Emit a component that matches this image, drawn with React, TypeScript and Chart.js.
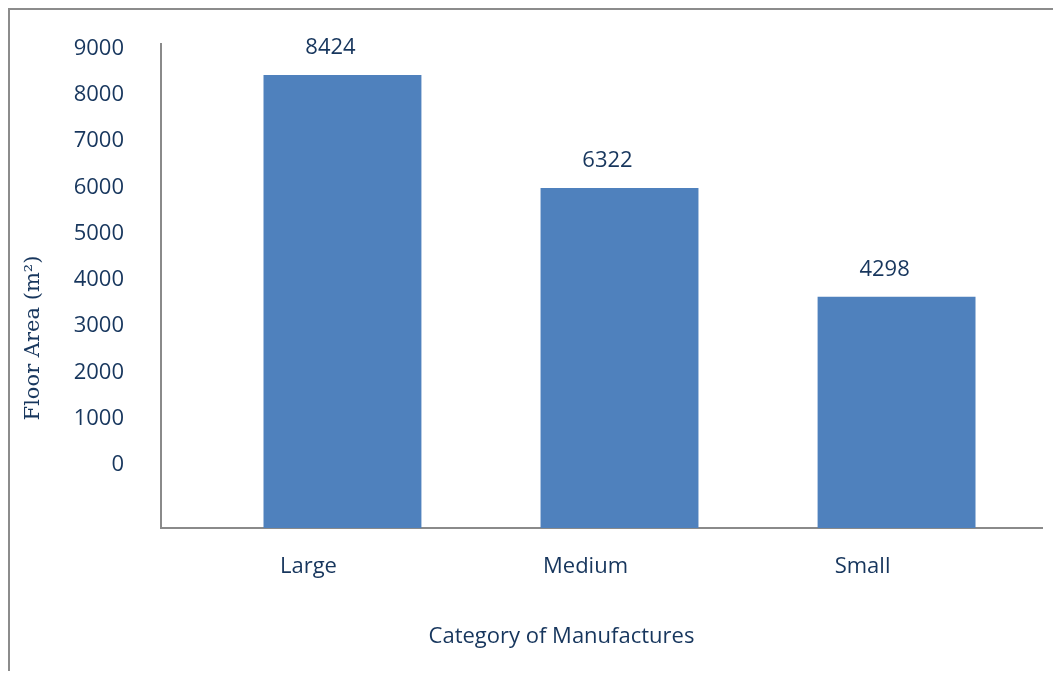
import React, { useEffect, useRef } from "react";
import { Chart, registerables } from "chart.js";

Chart.register(...registerables);

const categories = ["Large", "Medium", "Small"];
const floorArea = [8424, 6322, 4298];
const yTickValues = [0, 1000, 2000, 3000, 4000, 5000, 6000, 7000, 8000, 9000];
const yTitle = "Floor Area (m²)";
const xTitle = "Category of Manufactures";

const TEXT = "#17365D";
const BAR = "#4F81BD";
const AXIS = "#8A8A8A";
const SANS = "'Open Sans', sans-serif";

const extrasPlugin = {
  id: "extras",
  afterDatasetsDraw(chart: any) {
    const { ctx, chartArea } = chart;
    const meta = chart.getDatasetMeta(0);
    ctx.save();
    ctx.fillStyle = TEXT;
    ctx.font = `22px ${SANS}`;
    ctx.textAlign = "center";
    ctx.textBaseline = "middle";
    meta.data.forEach((bar: any, i: number) => {
      ctx.fillText(String(floorArea[i]), bar.x - 12, bar.y - 27);
    });
    // axis titles
    ctx.fillText(xTitle, (chartArea.left + chartArea.right) / 2 - 40, 627);
    ctx.save();
    ctx.translate(24, (chartArea.top + chartArea.bottom) / 2 + 52);
    ctx.rotate(-Math.PI / 2);
    ctx.font = `21px 'DejaVu Serif', serif`;
    ctx.fillText(yTitle, 0, 0);
    ctx.restore();
    ctx.restore();
  },
};

export default function App() {
  const ref = useRef<HTMLCanvasElement | null>(null);
  useEffect(() => {
    if (!ref.current) return;
    const chart = new Chart(ref.current, {
      type: "bar",
      data: {
        datasets: [
          {
            data: floorArea.map((v, i) => ({ x: i, y: v })),
            backgroundColor: BAR,
            borderWidth: 0,
            barPercentage: 0.57,
            categoryPercentage: 1,
          },
        ],
      },
      options: {
        animation: false,
        responsive: false,
        devicePixelRatio: 1,
        layout: { padding: { top: 34, right: 19, bottom: 0, left: 0 } },
        plugins: { legend: { display: false }, tooltip: { enabled: false } },
        scales: {
          x: {
            type: "linear",
            min: -0.655,
            max: 2.525,
            offset: false,
            grid: { display: false, drawTicks: false },
            border: { display: true, color: AXIS, width: 2 },
            afterBuildTicks: (s: any) => {
              s.ticks = categories.map((_, i) => ({ value: i }));
            },
            afterFit: (s: any) => {
              s.height = 143;
              s.paddingLeft = 0;
              s.paddingRight = 0;
            },
            ticks: {
              autoSkip: false,
              maxRotation: 0,
              padding: 26,
              labelOffset: -34,
              color: TEXT,
              font: { family: SANS, size: 22 },
              callback: (v: any) => categories[v as number],
            },
          },
          y: {
            type: "linear",
            position: "left",
            weight: 0,
            min: 0,
            max: 9000,
            grid: { display: false, drawTicks: false },
            border: { display: true, color: AXIS, width: 2 },
            ticks: { display: false },
            afterFit: (s: any) => {
              s.width = 0;
              s.paddingTop = 0;
              s.paddingBottom = 0;
            },
          },
          yl: {
            type: "linear",
            position: "left",
            weight: 1,
            min: -1361,
            max: 9097,
            grid: { display: false, drawTicks: false },
            border: { display: false },
            afterBuildTicks: (s: any) => {
              s.ticks = yTickValues.map((v) => ({ value: v }));
            },
            afterFit: (s: any) => {
              s.width = 151;
              s.paddingTop = 0;
              s.paddingBottom = 0;
            },
            ticks: {
              autoSkip: false,
              padding: 37,
              color: TEXT,
              font: { family: SANS, size: 22 },
              callback: (v: any) => String(v),
            },
          },
        },
      },
      plugins: [extrasPlugin],
    } as any);
    return () => chart.destroy();
  }, []);
  return (
    <div
      style={{
        width: 1051,
        height: 661,
        borderTop: "2px solid #8C8C8C",
        borderLeft: "2px solid #8C8C8C",
        overflow: "hidden",
      }}
    >
      <canvas ref={ref} width={1051} height={661} style={{ display: "block" }} />
    </div>
  );
}
